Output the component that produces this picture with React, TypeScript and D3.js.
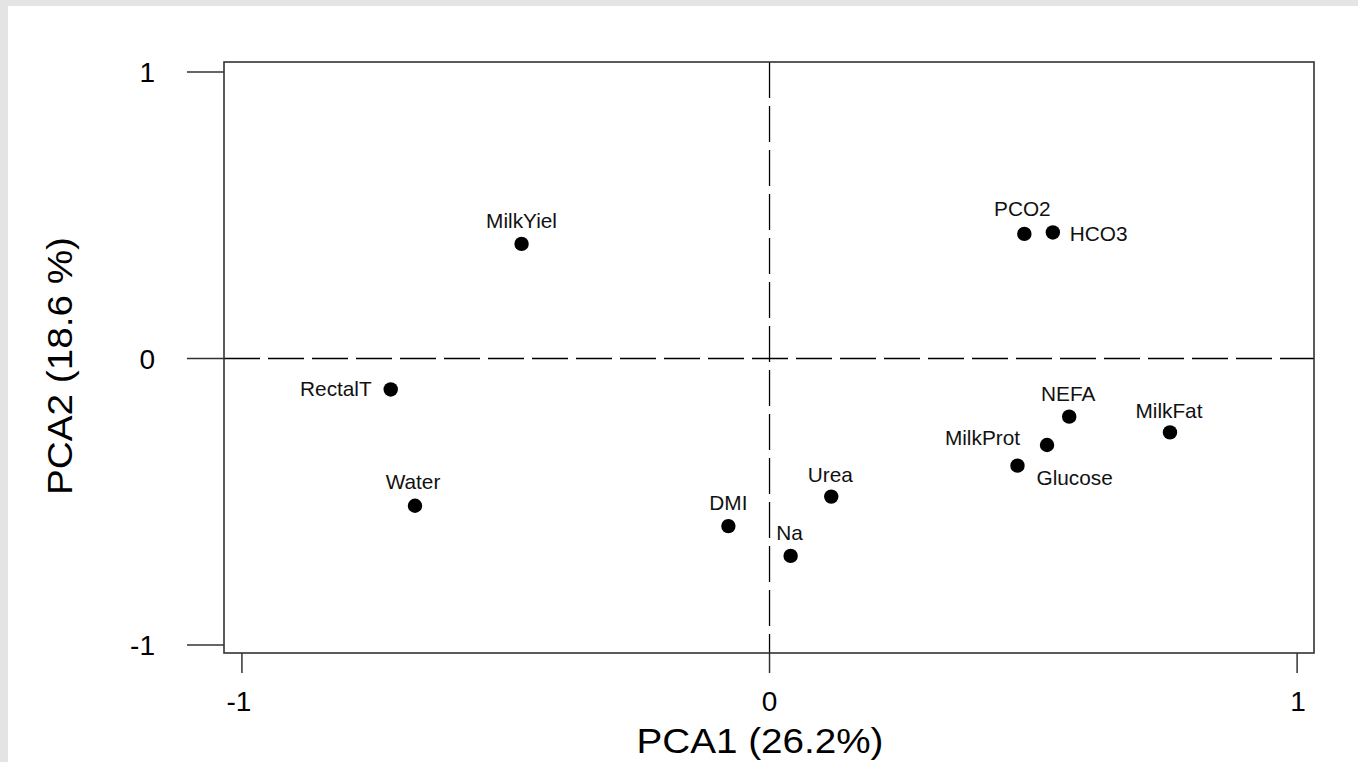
import React from "react";
import * as d3 from "d3";

const variables = ["MilkYiel", "PCO2", "HCO3", "RectalT", "Water", "DMI", "Na", "Urea", "NEFA", "MilkFat", "MilkProt", "Glucose"];
const pc1 = [-0.470, 0.483, 0.537, -0.718, -0.672, -0.078, 0.040, 0.117, 0.568, 0.759, 0.526, 0.470];
const pc2 = [0.400, 0.435, 0.440, -0.108, -0.514, -0.585, -0.689, -0.482, -0.203, -0.258, -0.302, -0.374];
const xTicks = [-1, 0, 1];
const yTicks = [-1, 0, 1];
const xTitle = "PCA1 (26.2%)";
const yTitle = "PCA2 (18.6 %)";

// label placement (layout only): [text-anchor, dx, dy]
const labelPlacement: [string, number, number][] = [
  ["middle", 0, -23],
  ["middle", -2, -25],
  ["start", 17, 1],
  ["end", -19, -1],
  ["middle", -2, -24],
  ["middle", 0, -23],
  ["middle", -1, -23],
  ["middle", -1, -22],
  ["middle", -1, -23],
  ["middle", -1, -22],
  ["end", -27, -7],
  ["start", 19, 12],
];

const W = 1358;
const H = 762;
const FONT = "'Liberation Sans', Arial, sans-serif";

export default function App() {
  const x = d3.scaleLinear().domain([-1.034, 1.032]).range([224, 1314]);
  const y = d3.scaleLinear().domain([-1.028, 1.035]).range([653, 62]);
  const [x0, x1] = x.range();
  const [y0, y1] = y.range();
  const ink = "#000";
  const axisCol = "#333";

  return (
    <svg width={W} height={H} style={{ position: "absolute", left: 0, top: 0, display: "block" }} fontFamily={FONT}>
      <rect x={0} y={0} width={W} height={H} fill="#e4e4e4" />
      <rect x={8} y={6} width={W - 8} height={H - 6} fill="#fff" />

      {/* dashed reference lines */}
      <line x1={x0} x2={x1} y1={y(0)} y2={y(0)} stroke={ink} strokeWidth={1.3} strokeDasharray="36,8" />
      <line x1={x(0)} x2={x(0)} y1={y1} y2={y0} stroke={ink} strokeWidth={1.3} strokeDasharray="36,8" />

      {/* box */}
      <rect x={x0} y={y1} width={x1 - x0} height={y0 - y1} fill="none" stroke={axisCol} strokeWidth={1.6} />

      {/* y ticks */}
      {yTicks.map((t) => (
        <g key={"yt" + t}>
          <line x1={187} x2={x0} y1={y(t)} y2={y(t)} stroke={axisCol} strokeWidth={1.5} />
          <text x={155} y={y(t)} dy="0.36em" textAnchor="end" fontSize={28} fill={ink}>
            {t === -1 ? "-1" : String(t)}
          </text>
        </g>
      ))}

      {/* x ticks */}
      {xTicks.map((t) => (
        <g key={"xt" + t}>
          <line x1={x(t)} x2={x(t)} y1={y0} y2={673} stroke={axisCol} strokeWidth={1.5} />
          <text x={x(t) - (t === -1 ? 3 : t === 1 ? -1 : 0)} y={711} textAnchor="middle" fontSize={28} fill={ink}>
            {t === -1 ? "-1" : String(t)}
          </text>
        </g>
      ))}

      {/* axis titles */}
      <text x={760} y={753} textAnchor="middle" fontSize={35} fill={ink} textLength={247} lengthAdjust="spacingAndGlyphs">
        {xTitle}
      </text>
      <text transform={`translate(72,366) rotate(-90)`} textAnchor="middle" fontSize={35} fill={ink} textLength={258} lengthAdjust="spacingAndGlyphs">
        {yTitle}
      </text>

      {/* points */}
      {variables.map((v, i) => (
        <circle key={"p" + v} cx={x(pc1[i])} cy={y(pc2[i])} r={7.2} fill={ink} />
      ))}
      {variables.map((v, i) => {
        const [anchor, dx, dy] = labelPlacement[i];
        return (
          <text key={"l" + v} x={x(pc1[i]) + dx} y={y(pc2[i]) + dy} dy="0.35em" textAnchor={anchor as any} fontSize={20.8} fill="#111">
            {v}
          </text>
        );
      })}
    </svg>
  );
}
